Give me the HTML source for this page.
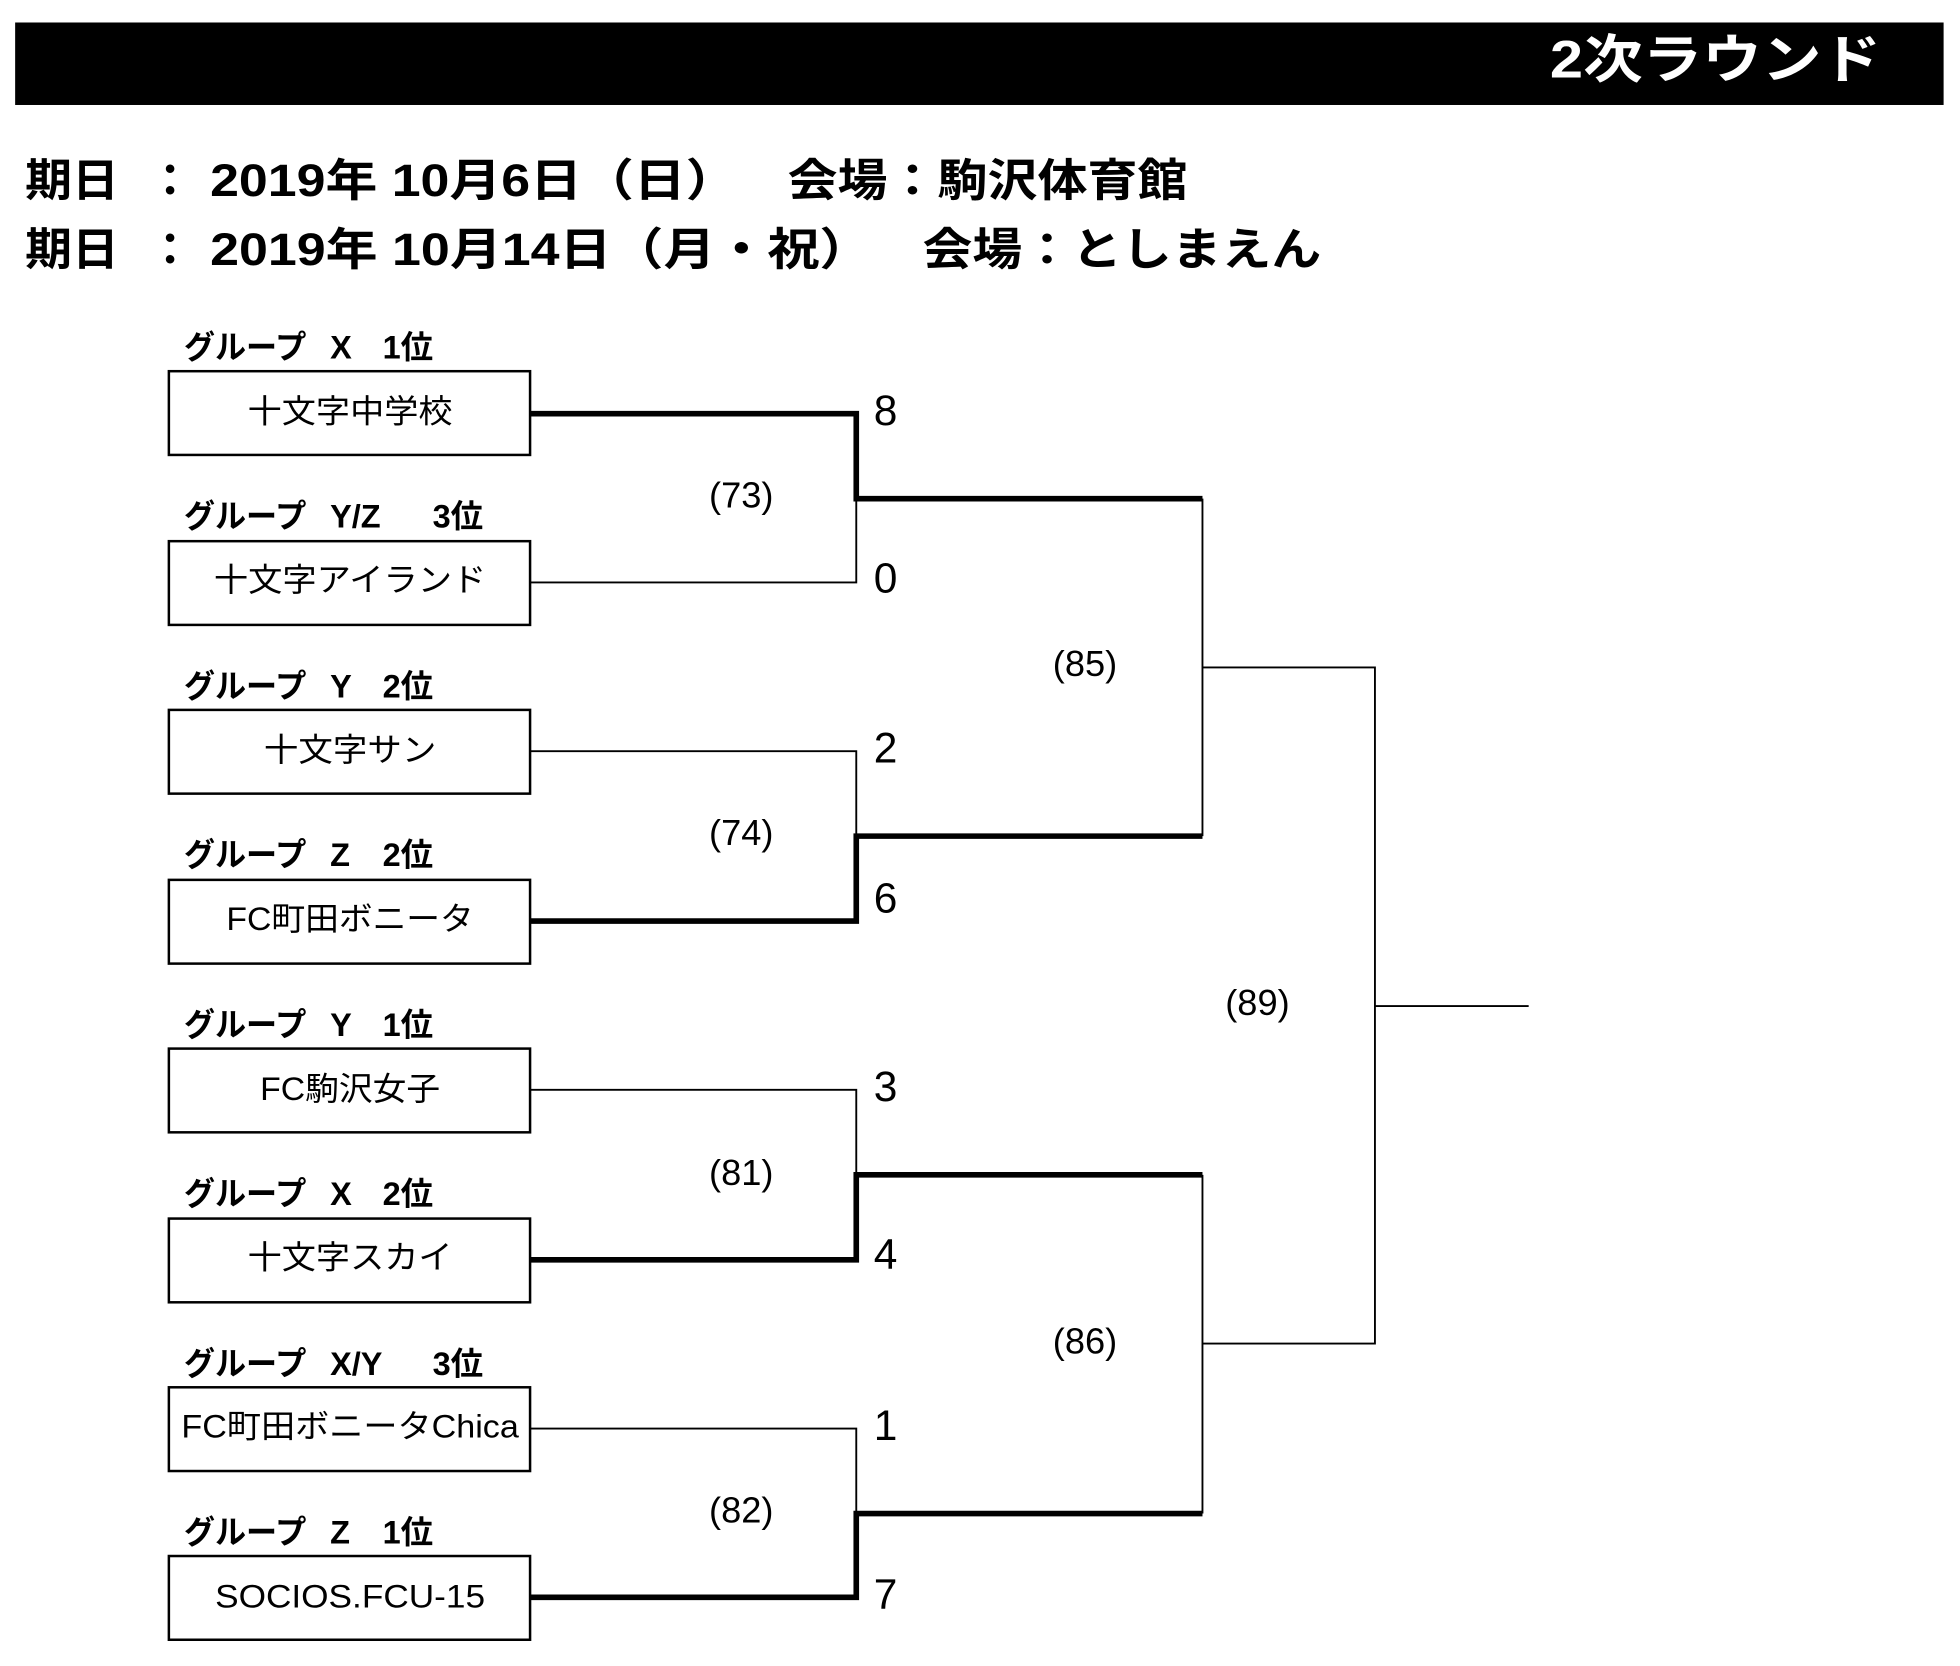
<!DOCTYPE html>
<html><head><meta charset="utf-8"><style>
html,body{margin:0;padding:0;background:#fff;}
svg{display:block;}
text{font-family:"Liberation Sans","Noto Sans CJK JP",sans-serif;fill:#000;}
</style></head><body>
<svg width="1960" height="1666" viewBox="0 0 1568 1333" xmlns="http://www.w3.org/2000/svg">
<rect x="12" y="18" width="1543" height="66" fill="#000"/>
<text x="1240" y="62" textLength="265" lengthAdjust="spacingAndGlyphs" font-size="42" font-weight="bold" style="fill:#fff">2次ラウンド</text>
<g font-size="36" font-weight="bold">
<text x="20" y="157" textLength="75" lengthAdjust="spacingAndGlyphs">期日</text>
<text x="118" y="157">：</text>
<text x="168" y="157" textLength="422" lengthAdjust="spacingAndGlyphs">2019年 10月6日（日）</text>
<text x="630" y="157" textLength="320" lengthAdjust="spacingAndGlyphs">会場：駒沢体育館</text>
<text x="20" y="212" textLength="75" lengthAdjust="spacingAndGlyphs">期日</text>
<text x="118" y="212">：</text>
<text x="168" y="212" textLength="529" lengthAdjust="spacingAndGlyphs">2019年 10月14日（月・祝）</text>
<text x="738" y="212" textLength="319" lengthAdjust="spacingAndGlyphs">会場：としまえん</text>
</g>
<g font-size="26" font-weight="bold">
<text x="147" y="287" textLength="98" lengthAdjust="spacingAndGlyphs">グループ</text><text x="264" y="287">X</text><text x="306" y="287">1位</text>
<text x="147" y="422" textLength="98" lengthAdjust="spacingAndGlyphs">グループ</text><text x="264" y="422">Y/Z</text><text x="346" y="422">3位</text>
<text x="147" y="558" textLength="98" lengthAdjust="spacingAndGlyphs">グループ</text><text x="264" y="558">Y</text><text x="306" y="558">2位</text>
<text x="147" y="693" textLength="98" lengthAdjust="spacingAndGlyphs">グループ</text><text x="264" y="693">Z</text><text x="306" y="693">2位</text>
<text x="147" y="829" textLength="98" lengthAdjust="spacingAndGlyphs">グループ</text><text x="264" y="829">Y</text><text x="306" y="829">1位</text>
<text x="147" y="964" textLength="98" lengthAdjust="spacingAndGlyphs">グループ</text><text x="264" y="964">X</text><text x="306" y="964">2位</text>
<text x="147" y="1100" textLength="98" lengthAdjust="spacingAndGlyphs">グループ</text><text x="264" y="1100">X/Y</text><text x="346" y="1100">3位</text>
<text x="147" y="1235" textLength="98" lengthAdjust="spacingAndGlyphs">グループ</text><text x="264" y="1235">Z</text><text x="306" y="1235">1位</text>
</g>
<g fill="#fff" stroke="#000" stroke-width="2">
<rect x="135" y="297" width="289" height="67"/>
<rect x="135" y="433" width="289" height="67"/>
<rect x="135" y="568" width="289" height="67"/>
<rect x="135" y="704" width="289" height="67"/>
<rect x="135" y="839" width="289" height="67"/>
<rect x="135" y="975" width="289" height="67"/>
<rect x="135" y="1110" width="289" height="67"/>
<rect x="135" y="1245" width="289" height="67"/>
</g>
<g font-size="26" text-anchor="middle">
<text x="280" y="338" textLength="164" lengthAdjust="spacingAndGlyphs">十文字中学校</text>
<text x="280" y="473" textLength="218" lengthAdjust="spacingAndGlyphs">十文字アイランド</text>
<text x="280" y="609" textLength="138" lengthAdjust="spacingAndGlyphs">十文字サン</text>
<text x="280" y="744" textLength="198" lengthAdjust="spacingAndGlyphs">FC町田ボニータ</text>
<text x="280" y="880" textLength="144" lengthAdjust="spacingAndGlyphs">FC駒沢女子</text>
<text x="280" y="1015" textLength="164" lengthAdjust="spacingAndGlyphs">十文字スカイ</text>
<text x="280" y="1150" textLength="270" lengthAdjust="spacingAndGlyphs">FC町田ボニータChica</text>
<text x="280" y="1286" textLength="216" lengthAdjust="spacingAndGlyphs">SOCIOS.FCU-15</text>
</g>
<g fill="none" stroke="#000" stroke-width="1.5">
<path d="M424 466H685V399M424 601H685V669M424 872H685V940M424 1143H685V1211"/>
<path d="M962 399V669M962 940V1211M962 534H1100V1075H962M1100 805H1223"/>
</g>
<g fill="none" stroke="#000" stroke-width="4.5">
<path d="M424 331H685V399H962"/>
<path d="M424 737H685V669H962"/>
<path d="M424 1008H685V940H962"/>
<path d="M424 1278H685V1211H962"/>
</g>
<g font-size="34">
<text x="699" y="340">8</text>
<text x="699" y="474">0</text>
<text x="699" y="610">2</text>
<text x="699" y="730">6</text>
<text x="699" y="881">3</text>
<text x="699" y="1015">4</text>
<text x="699" y="1152">1</text>
<text x="699" y="1287">7</text>
</g>
<g font-size="29" text-anchor="middle">
<text x="593" y="406">(73)</text>
<text x="593" y="676">(74)</text>
<text x="593" y="948">(81)</text>
<text x="593" y="1218">(82)</text>
<text x="868" y="541">(85)</text>
<text x="868" y="1083">(86)</text>
<text x="1006" y="812">(89)</text>
</g>
</svg>
</body></html>
